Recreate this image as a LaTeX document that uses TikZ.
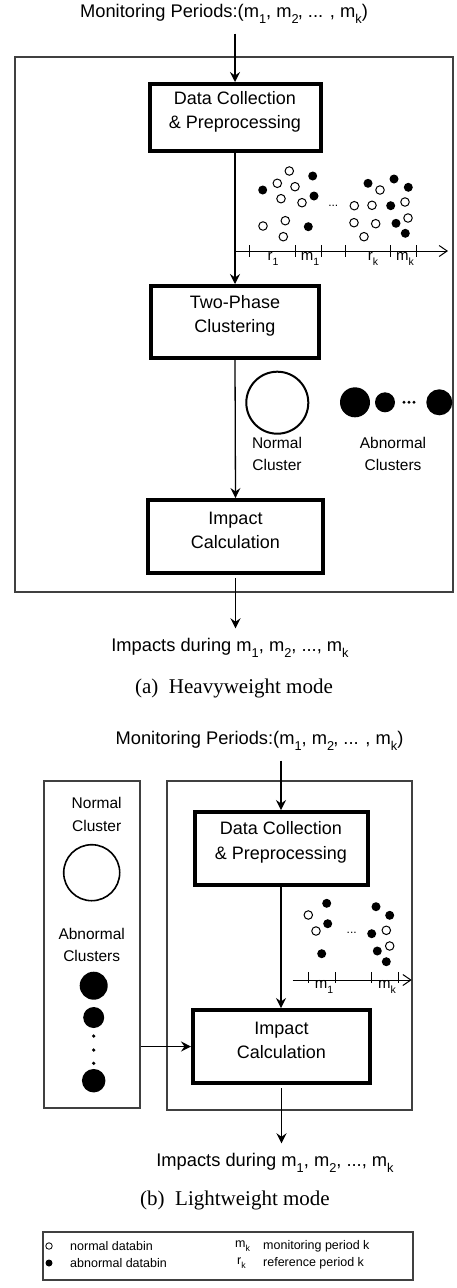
\documentclass[tikz,border=0pt]{standalone}
\usepackage{fontspec}
\usepackage{graphicx}
\setmainfont{Liberation Sans}
\newfontfamily\capfont{Liberation Serif}
\usetikzlibrary{arrows.meta}
\newcommand{\lsub}[1]{\raisebox{-0.6ex}{\scalebox{0.7}{#1}}}
\begin{document}
\begin{tikzpicture}[x=1pt,y=-1pt,
  proc/.style={draw, line width=4pt, inner sep=0pt, outer sep=2pt},
  frame/.style={draw=black!75, line width=1.1pt, inner sep=0pt},
  arr/.style={line width=1.3pt, -{Stealth[length=10pt,width=10pt,inset=3.5pt]}},
  axisln/.style={line width=1pt, -{Straight Barb[length=8pt,width=11pt]}},
  nbin/.style={circle, draw, line width=1pt, fill=white, minimum size=8.5pt, inner sep=0pt},
  abin/.style={circle, fill=black, minimum size=9pt, inner sep=0pt},
  txt/.style={font=\fontsize{18}{24.5}\selectfont, align=center, inner sep=0pt},
  ttxt/.style={font=\fontsize{18.3}{24.5}\selectfont, align=center, inner sep=0pt},
  ctxt/.style={font=\fontsize{15.5}{22.5}\selectfont, align=center, inner sep=0pt},
  ltxt/.style={font=\fontsize{15}{16}\selectfont, inner sep=0pt},
  dtxt/.style={font=\fontsize{12}{14}\selectfont, inner sep=0pt},
  captxt/.style={font=\capfont\fontsize{21}{24}\selectfont, inner sep=0pt},
  legtxt/.style={font=\fontsize{12.5}{14}\selectfont, inner sep=0pt, anchor=west}
]
\useasboundingbox (0,0) rectangle (456,1288);

% ================= (a) Heavyweight mode =================
\node[ttxt] (ttla) at (224,14) {Monitoring Periods:(m\lsub{1}, m\lsub{2}\kern-1pt, ... , m\lsub{k})};
\node[frame, minimum width=438pt, minimum height=535pt] (fa) at (234,324.5) {};

\node[proc, minimum width=171pt, minimum height=67pt] (dca) at (235,117.5) {};
\node[txt] (dcat) at (235,112) {Data Collection\\\& Preprocessing};
\node[proc, minimum width=168pt, minimum height=72pt] (tpa) at (235,322) {};
\node[txt] (tpat) at (235,316) {Two-Phase\\Clustering};
\node[proc, minimum width=175pt, minimum height=73pt] (ica) at (235.5,536.5) {};
\node[txt] (icat) at (235.5,530.5) {Impact\\Calculation};
\node[ttxt] (outa) at (230,648) {Impacts during m\lsub{1}, m\lsub{2}, ..., m\lsub{k}};

\draw[arr] ([yshift=-10pt]ttla.south -| dca.north) -- (dca.north);
\draw[arr] (dca.south) -- (tpa.north);
\draw[arr] (tpa.south) -- (ica.north);
\draw[arr] ([yshift=-3pt]ica.south) -- ([yshift=10pt]outa.north -| ica.south);

% scatter (a)
\foreach \x/\y [count=\i] in {289.3/171,277.3/183.3,295/186.7,281/198.7,302/202.7,263/226,285.3/220.7,283.3/236.7,380/190,354.3/205.7,372/205.3,405/202,354/222.7,375.7/223.7,408/218,364/236.7}
  \node[nbin] (na\i) at (\x,\y) {};
\foreach \x/\y [count=\i] in {262.7/190,312.7/176,314/196,308.3/226.7,368/183.3,394/179,408.3/187.3,390.7/205.7,396/223.3,405.3/233.3}
  \node[abin] (aa\i) at (\x,\y) {};
\node[dtxt] (dotsa) at (333.3,206) {...};
\coordinate (axa0) at (235,251);
\coordinate (axa1) at (448,251);
\draw[axisln] (axa0) -- (axa1);
\foreach \x in {249.3,295,321.7,345,390,416.7}
  \draw[line width=1pt] (\x,245) -- (\x,257);
\node[ltxt] (r1a) at (273,259) {r\lsub{1}};
\node[ltxt] (m1a) at (310,259) {m\lsub{1}};
\node[ltxt] (rka) at (373,259) {r\lsub{k}};
\node[ltxt] (mka) at (405,259) {m\lsub{k}};

% clusters (a)
\node[circle, draw, line width=2pt, minimum size=62pt, inner sep=0pt] (nca) at (277.3,402.7) {};
\node[ctxt] (ncat) at (277,454) {Normal\\Cluster};
\node[circle, fill=black, minimum size=30pt, inner sep=0pt] (ac1) at (355,402.3) {};
\node[circle, fill=black, minimum size=20pt, inner sep=0pt] (ac2) at (385,402.3) {};
\foreach \x in {404,409,414} \fill (\x,402.3) circle (1.6);
\node[circle, fill=black, minimum size=26pt, inner sep=0pt] (ac3) at (439.3,402.3) {};
\node[ctxt] (acat) at (393,454) {Abnormal\\Clusters};

\node[captxt] (capa) at (234,688) {(a)\hspace{0.5em}Heavyweight mode};

% ================= (b) Lightweight mode =================
\node[ttxt] (ttlb) at (259.5,741) {Monitoring Periods:(m\lsub{1}, m\lsub{2}\kern-1pt, ... , m\lsub{k})};
\node[frame, minimum width=96pt, minimum height=327pt] (lp) at (92,944.5) {};
\node[frame, minimum width=245pt, minimum height=329pt] (rp) at (289.5,945.5) {};

\node[ctxt] (ncbt) at (96.7,814.6) {Normal\\Cluster};
\node[circle, draw, line width=1.6pt, minimum size=56pt, inner sep=0pt] (ncb) at (91.7,872.7) {};
\node[ctxt] (acbt) at (91.7,945) {Abnormal\\Clusters};
\node[circle, fill=black, minimum size=28pt, inner sep=0pt] (acb1) at (93.7,985.7) {};
\node[circle, fill=black, minimum size=21pt, inner sep=0pt] (acb2) at (93.7,1017.5) {};
\foreach \y in {1036,1050,1063.3} \fill (93.7,\y) circle (1.8);
\node[circle, fill=black, minimum size=23.5pt, inner sep=0pt] (acb3) at (93.7,1080.7) {};

\node[proc, minimum width=173pt, minimum height=73pt] (dcb) at (281,848.5) {};
\node[txt] (dcbt) at (281,842.5) {Data Collection\\\& Preprocessing};
\node[proc, minimum width=177pt, minimum height=73pt] (icb) at (281.5,1046.5) {};
\node[txt] (icbt) at (281.5,1040.5) {Impact\\Calculation};
\node[ttxt] (outb) at (275,1163) {Impacts during m\lsub{1}, m\lsub{2}, ..., m\lsub{k}};

\draw[arr] ([yshift=-10pt]ttlb.south -| dcb.north) -- (dcb.north);
\draw[arr] (dcb.south) -- (dcb.south |- icb.north);
\draw[arr] (icb.west -| lp.east) -- (icb.west);
\draw[arr] ([yshift=-3pt]icb.south) -- ([yshift=10pt]outb.north -| icb.south);

% scatter (b)
\foreach \x/\y [count=\i] in {308.3/915,316/931,386.3/930.3,389.7/946}
  \node[nbin] (nb\i) at (\x,\y) {};
\foreach \x/\y [count=\i] in {326.7/903.3,327.7/923.7,321.7/953.7,376/906.7,389.7/915.3,371.7/933.7,377.3/951,386.3/961.7}
  \node[abin] (ab\i) at (\x,\y) {};
\node[dtxt] (dotsb) at (351.7,932.5) {...};
\coordinate (axb0) at (292.7,980);
\coordinate (axb1) at (411.7,980);
\draw[axisln] (axb0) -- (axb1);
\foreach \x in {308.3,335.5,371,398.3}
  \draw[line width=1pt] (\x,972) -- (\x,983);
\node[ltxt] (m1b) at (324,987) {m\lsub{1}};
\node[ltxt] (mkb) at (387,987) {m\lsub{k}};

\node[captxt] (capb) at (235,1200) {(b)\hspace{0.5em}Lightweight mode};

% ================= legend =================
\node[frame, minimum width=370pt, minimum height=48pt] (leg) at (228,1256) {};
\node[circle, draw, line width=0.8pt, minimum size=6.5pt, inner sep=0pt] (lgn) at (49,1246) {};
\node[circle, fill=black, minimum size=7pt, inner sep=0pt] (lga) at (49,1263) {};
\node[legtxt] (lgnt) at (70,1246) {normal databin};
\node[legtxt] (lgat) at (70,1263) {abnormal databin};
\node[legtxt] (lgm) at (235,1246) {m\lsub{k}};
\node[legtxt] (lgr) at (237,1263) {r\lsub{k}};
\node[legtxt] (lgmt) at (263,1246) {monitoring period k};
\node[legtxt] (lgrt) at (263,1263) {reference period k};
\end{tikzpicture}
\end{document}
